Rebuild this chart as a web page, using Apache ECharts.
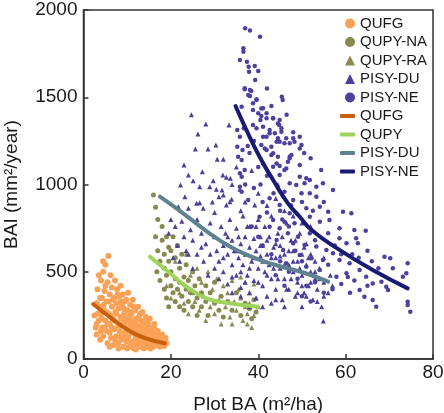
<!DOCTYPE html>
<html>
<head>
<meta charset="utf-8">
<script src="https://cdn.jsdelivr.net/npm/echarts@6/dist/echarts.min.js"></script>
<style>
  html, body { margin: 0; padding: 0; background: #fff; }
  #chart { width: 444px; height: 413px; }
</style>
</head>
<body>
<div id="chart"></div>
<script>
// scatter points: [plot BA, BAI]
const qufgPts = [
  [2.5,250],[2.8,180],[3,320],[3,140],[3.2,400],[3.5,220],[3.5,480],[3.6,300],[3.8,110],[4,450],[4,260],[4.2,350],
  [4.3,180],[4.5,500],[4.5,560],[4.5,130],[4.7,280],[4.8,390],[5,220],[5,540],[5.2,330],[5.3,160],[5.5,440],[5.5,90],
  [5.7,590],[5.8,260],[6,370],[6,200],[6.2,480],[6.3,120],[6.5,300],[6.5,410],[6.7,230],[6.8,80],[7,350],[7,170],
  [7.2,450],[7.3,270],[7.5,130],[7.5,320],[7.7,400],[7.8,210],[8,90],[8,290],[8.2,360],[8.3,160],[8.5,240],[8.5,420],
  [8.7,110],[8.8,310],[9,200],[9,370],[9.2,70],[9.3,260],[9.5,150],[9.5,330],[9.7,230],[9.8,100],[10,280],[10,180],
  [10.2,380],[10.3,130],[10.5,240],[10.5,70],[10.7,310],[10.8,200],[11,150],[11,260],[11.2,100],[11.3,340],[11.5,220],
  [11.5,60],[11.7,170],[11.8,280],[12,120],[12,230],[12.2,80],[12.3,190],[12.5,300],[12.5,150],[12.7,100],[12.8,250],
  [13,180],[13,70],[13.2,220],[13.3,130],[13.5,270],[13.5,100],[13.7,170],[13.8,60],[14,210],[14,140],[14.2,90],
  [14.3,240],[14.5,170],[14.5,70],[14.7,120],[14.8,200],[15,150],[15,90],[15.2,230],[15.3,60],[15.5,130],[15.5,180],
  [15.8,100],[16,150],[16,70],[16.2,200],[16.5,120],[16.7,80],[17,160],[17,100],[17.3,130],[17.5,70],[17.8,110],
  [18,140],[18.2,80],[18.5,100],[18.8,120],[19,90],
  [3,200],[3.3,260],[3.8,350],[4,160],[4.2,230],[4.6,310],[4.8,180],[5,420],[5.2,270],[5.5,200],[5.8,330],[6,150],
  [6.2,250],[6.5,180],[6.8,340],[7,220],[7.2,110],[7.5,260],[7.8,370],[8,190],[8.3,130],[8.5,330],[8.8,230],[9,130],
  [9.2,290],[9.5,210],[9.8,340],[10,120],[10.2,220],[10.5,180],[10.8,270],[11,90],[11.3,190],[11.5,300],[11.8,140],
  [12,200],[12.3,110],[12.5,230],[12.8,160],[13,260],[13.3,90],[13.5,200],[13.8,150],[14,110],[14.3,190],[14.5,230],
  [14.8,90],[15,180],[15.3,120],[15.5,80],[15.8,160],[16,110],[16.3,170],[16.5,90],[17,130],[17.5,110],[18,100],
  [18.5,75],[10,60],[12,55],[8,60],[6,70]
];
const qupyNaPts = [
  [16,940],[16.5,870],[17,800],[16.5,700],[17,620],[17.5,560],[16.8,500],[17.5,450],[18,680],[18,760],[18.5,600],
  [18.5,520],[18.5,400],[19,700],[19,480],[19,350],[19.5,640],[19.5,560],[19.5,300],[20,620],[20,500],[20,420],
  [20.5,700],[20.5,380],[21,580],[21,460],[21,330],[21.5,650],[21.5,400],[22,520],[22,300],[22,440],[22.5,600],
  [22.5,360],[23,470],[23,280],[23.5,540],[23.5,400],[24,330],[24,450],[24.5,380],[25,500],[25,300],[25.5,420],
  [26,350],[26,250],[26.5,460],[27,380],[27,300],[28,420],[28,330],[28.5,250],[29,380],[30,320],[30,440],[31,280],
  [31.5,360],[32,240],[33,330],[34,280],[35,380],[36,250],[37,320],[38,290],[38.5,230],[39,340],[39.5,270]
];
const qupyRaPts = [
  [19,420],[20,350],[21,560],[22,380],[23,320],[23.5,600],[24,260],[24.5,480],[25,380],[25.5,330],[26,520],[26.5,280],
  [27,440],[27.5,360],[28,220],[28.5,500],[29,300],[29.5,400],[30,260],[30.5,460],[31,340],[31.5,200],[32,420],
  [32.5,300],[33,380],[33.5,240],[34,450],[34.5,330],[35,280],[35.5,400],[36,350],[36.5,220],[37,440],[37,300],
  [37.5,260],[38,380],[38,320],[38.5,180],[39,430],[39,250],[39.5,350],[40,300],[37.5,200],[36,470],[34,200]
];
const pisyDuPts = [
  [24.7,1400],[28,1347],[33.3,1341],[26.2,1289],[25.6,1203],[28.5,1203],[30.3,1226],[30.6,1144],[32,1144],[23,1112],
  [27.2,1073],[24,1054],[25.1,1022],[31.9,1054],[32.7,1041],[33.6,1036],[29.7,1022],[22.2,997],[26.6,987],[28.9,987],
  [30.4,973],[31.7,969],[35.8,973],[23.2,930],[31,930],[32,940],[33.9,915],[25.9,892],[26.6,896],[32.7,883],[33.5,901],
  [39.2,883],[21.7,873],[24,864],[27.4,864],
  [20,800],[19.5,720],[21,760],[22.5,790],[23,700],[21.5,650],[24.5,740],[25,680],[26,800],[27,720],[20.5,580],[22,560],
  [23.5,620],[26,600],[28,660],[25,520],[27.5,560],[29,780],[30,840],[28.5,480],
  [30,700],[30.5,620],[31,560],[31.5,760],[32,650],[32,500],[32.5,720],[33,600],[33,430],[33.5,800],[34,680],[34,540],
  [34.5,620],[35,750],[35,480],[35.5,580],[36,660],[36,410],[36.5,820],[36.5,540],[37,700],[37,600],[37.5,480],[38,760],
  [38,640],[38,380],[38.5,560],[39,690],[39,450],[39.5,620],[40,800],[40,520],[40.5,700],[40.5,590],[41,420],[41,650],
  [41.5,760],[41.5,500],[42,600],[42,360],[42.5,700],[42.5,540],[43,820],[43,460],[43.5,640],[44,580],[44,400],[44.5,720],
  [45,520],[45,650],[45.5,340],[46,600],[46,460],[46.5,780],[47,540],[47,400],[47.5,680],[48,500],[48,620],[48.5,360],
  [49,560],[49,440],[49.5,720],[50,600],[50,480],[50.5,380],[51,540],[51,660],[51.5,420],[52,500],[52,600],[52.5,340],
  [53,460],[53,560],[53.5,400],[54,520],[54.5,300],[55,440],[55,580],[56,380],[56.5,480],[57,420],[54.9,218],[50,300],
  [46,300],[43,320],[39.5,350],[36,360],[34,380],
  [37,900],[40,950],[42,880],[44,920],[46,850],[48,820],[38.5,1080],[35,1100],[44.5,1000],[50,780],[52,760],
  [31,460],[32,580],[33,700],[34,470],[35,620],[35.5,700],[36,500],[37,440],[37.5,760],[38,520],[39,580],[39.5,760],
  [40,440],[40.5,650],[41,560],[42,480],[42,680],[43,580],[43.5,520],[44,660],[44.5,460],[45,590],[45.5,700],[46,540],
  [46.5,400],[47,620],[47.5,460],[48,560],[48.5,680],[49,380],[49.5,520],[50,420],[50.5,640],[51,360],[51.5,580],
  [52,440],[53,500],[53.5,330],[54,460],[55,360],[44,340],[41,300],[38,300],[30,520],[29,600],[27,640],[24,600],
  [29.5,900],[34,1000],[36,850]
];
const pisyNePts = [
  [37,1895],[38.1,1882],[40.4,1847],[36.6,1781],[36.6,1761],[35.8,1714],[37.4,1704],[37.8,1675],[39.2,1679],[37.9,1646],
  [39.3,1599],[36.9,1546],[38.4,1536],[38.1,1507],[45.4,1503],[45.6,1484],[39.6,1488],[36.2,1446],[38.8,1427],[40,1408],
  [41.1,1437],[40.7,1393],[40.5,1370],[41.9,1379],[43.4,1379],[38.8,1341],[39.6,1322],[41.1,1331],[44.9,1370],[44.8,1341],
  [45.3,1322],[36.7,1322],[42.6,1293],[43.8,1293],[41.9,1274],[44.5,1265],[44.9,1245],[46.4,1265],[48,1265],[49.5,1274],
  [47.2,1236],[48.3,1245],[49.9,1226],[49.5,1207],[40.7,1226],[41.5,1207],[43,1217],[43.4,1179],[37.6,1220],[38,1180],
  [47.2,1159],[43,1169],[47.6,1169],[47.2,1150],[41.1,1121],[44.2,1121],[44.9,1106],[49.5,1112],[46.4,1092],[54.4,1083],
  [44.9,1054],[49.5,1045],[51,1036],[51.8,1026],[50.6,1007],[47.2,1007],[48.7,997],[53.3,987],[46,959],[49.9,950],
  [51.8,950],[54.8,1007],[42.6,921],[48,911],[53.3,930],[57.1,968],[44.9,883],[51,864],[54.1,873],[56,844],[47.2,835],
  [51.8,815],[59.4,844],[61.3,835],[43.4,797],[46,787],[48.3,778],[54.1,787],[56.3,797],[58.6,749],[62,739],[64.6,735],
  [58.6,692],[60.2,663],[62.4,692],[62.8,663],[40.3,815],[42.6,758],[44.9,749],[46.8,720],[49.1,701],[51.8,720],
  [44.2,682],[48,663],[50.6,653],[53.3,644],[55.6,625],[57.1,606],[45.7,625],[49.5,596],[52.2,577],[54.8,568],[58.6,568],
  [60.9,548],[46.4,548],[51,529],[54.1,510],[57.9,471],[60.2,491],[63.2,510],[64.7,471],[66.2,433],[63.2,395],[64.3,357],
  [66.2,338],[67,300],[68.9,586],[70.2,577],[74.2,548],[73.1,471],[73.9,491],[74.2,328],[74.2,309],[74.8,271],[69.3,414],
  [69.7,395],[70.8,520],[68.2,443],
  [41,650],[43,600],[45,560],[47,500],[49,460],[51,420],[53,440],[55,380],[57,400],[59,430],[61,380],[46,420],[50,360],
  [52,330],[44,480],
  [35.2,1312],[35.8,1274],[35.2,1217],[36.4,1198],[35.4,1159],[36.2,1140],[35.8,1064],[36.2,1045],[36.9,1083],[35.8,987],
  [36.2,959],[37.7,911],[36.9,1551],[38.1,1542],[37.7,1513],[39.6,1484],[38.8,1465],
  [40.7,1436],[41.9,1408],[43.4,1379],[44.5,1350],[42.6,1312],[45.3,1303],[41.1,1274],[44.2,1245],[46,1236],[41.9,1198],
  [44.5,1159],[46.8,1131],[43.4,1102],[46,1083],
  [39,1250],[40,1100],[42,1050],[39,980],[41,900],[40.5,1000],[43.5,950],[45,850],[47.5,880],[50,900],[52.5,850],
  [55,900],[56,720],[53,680],[57.5,650],[59,600],[61.5,600],[63,580],[65,620],[66,560],[67.5,520],[62,450],[65,420],
  [60.5,470],[56,540],[48.5,620],[50,560],[47,760],[45.5,800],[42,840],[38.5,760],[40,700],[37,1000],[52,1150],
  [50.5,1180],[48,1300],[46.5,1400],[43,1450],[42,1550],[40,1650]
];

// fitted curves
const qufgFit = [[2.2,315],[6.4,233],[10.2,166],[14.1,119],[18.6,90]];
const qupyFit = [[15.2,586],[19.8,491],[23.6,414],[28.2,348],[33.5,319],[40,300]];
const pisyDuFit = [[17.5,930],[22.8,835],[28.2,732],[33.5,645],[38.1,590],[43.4,543],[51,490],[56,443]];
const pisyNeFit = [[34.8,1450],[37.3,1312],[40.3,1159],[43.4,1026],[46.8,892],[49.5,815],[52.2,739],[58.6,625],[66.2,510],[74.2,405]];

const scatterNames = ['QUFG', 'QUPY-NA', 'QUPY-RA', 'PISY-DU', 'PISY-NE'];
// trailing space keeps the fit lines apart from the scatter series in the legend
const fitNames = ['QUFG ', 'QUPY', 'PISY-DU ', 'PISY-NE '];

const font = 'Arial, "Liberation Sans", sans-serif';
const textColor = '#1a1a1a';
const axisColor = '#333';

const chart = echarts.init(document.getElementById('chart'));

const scatter = (name, data, symbol, color, size) => ({
  name,
  type: 'scatter',
  data,
  symbol,
  symbolSize: size,
  itemStyle: { color, opacity: 1 },
  z: 2,
});

const fit = (name, data, color) => ({
  name,
  type: 'line',
  data,
  smooth: true,
  symbol: 'none',
  showSymbol: false,
  lineStyle: { color, width: 4, cap: 'round' },
  itemStyle: { color },
  z: 5,
});

const axisCommon = {
  type: 'value',
  axisLine: { show: true, onZero: false, lineStyle: { color: axisColor, width: 1.5 } },
  axisTick: { show: true, inside: true, length: 5, lineStyle: { color: axisColor, width: 1.5 } },
  splitLine: { show: false },
  nameLocation: 'middle',
  nameTextStyle: { fontFamily: font, fontSize: 19, color: textColor },
};

chart.setOption({
  animation: false,
  backgroundColor: '#fff',
  grid: {
    left: 83.5,
    right: 11,
    top: 10,
    bottom: 54,
    outerBoundsMode: 'none',
    show: true,
    borderColor: axisColor,
    borderWidth: 1.5,
  },
  legend: [
    {
      data: scatterNames,
      orient: 'vertical',
      left: 340,
      top: 11,
      itemWidth: 10,
      itemHeight: 10,
      itemGap: 3.5,
      textStyle: { fontFamily: font, fontSize: 15, color: textColor },
    },
    {
      data: fitNames.map((n) => ({ name: n, icon: 'roundRect' })),
      orient: 'vertical',
      left: 335,
      top: 103.5,
      itemWidth: 15,
      itemHeight: 4,
      itemGap: 3.5,
      textStyle: { fontFamily: font, fontSize: 15, color: textColor },
    },
  ],
  xAxis: {
    ...axisCommon,
    min: 0,
    max: 80,
    interval: 20,
    name: 'Plot BA (m²/ha)',
    nameGap: 36,
    axisLabel: { fontFamily: font, fontSize: 19, color: textColor, margin: 4, formatter: (v) => String(v) },
  },
  yAxis: {
    ...axisCommon,
    min: 0,
    max: 2000,
    interval: 500,
    name: 'BAI (mm²/year)',
    nameGap: 62,
    axisLabel: { fontFamily: font, fontSize: 19, color: textColor, margin: 6, formatter: (v) => String(v) },
  },
  series: [
    scatter(scatterNames[0], qufgPts, 'circle', '#f9a257', 6),
    scatter(scatterNames[1], qupyNaPts, 'circle', '#87894f', 5),
    scatter(scatterNames[2], qupyRaPts, 'triangle', '#8a8a55', 5),
    scatter(scatterNames[3], pisyDuPts, 'triangle', '#4b3f9c', 5),
    scatter(scatterNames[4], pisyNePts, 'circle', '#4a41a0', 4.5),
    fit(fitNames[0], qufgFit, '#c6600c'),
    fit(fitNames[1], qupyFit, '#9ed35c'),
    fit(fitNames[2], pisyDuFit, '#5f8290'),
    fit(fitNames[3], pisyNeFit, '#1b1a72'),
  ],
});
</script>
</body>
</html>
